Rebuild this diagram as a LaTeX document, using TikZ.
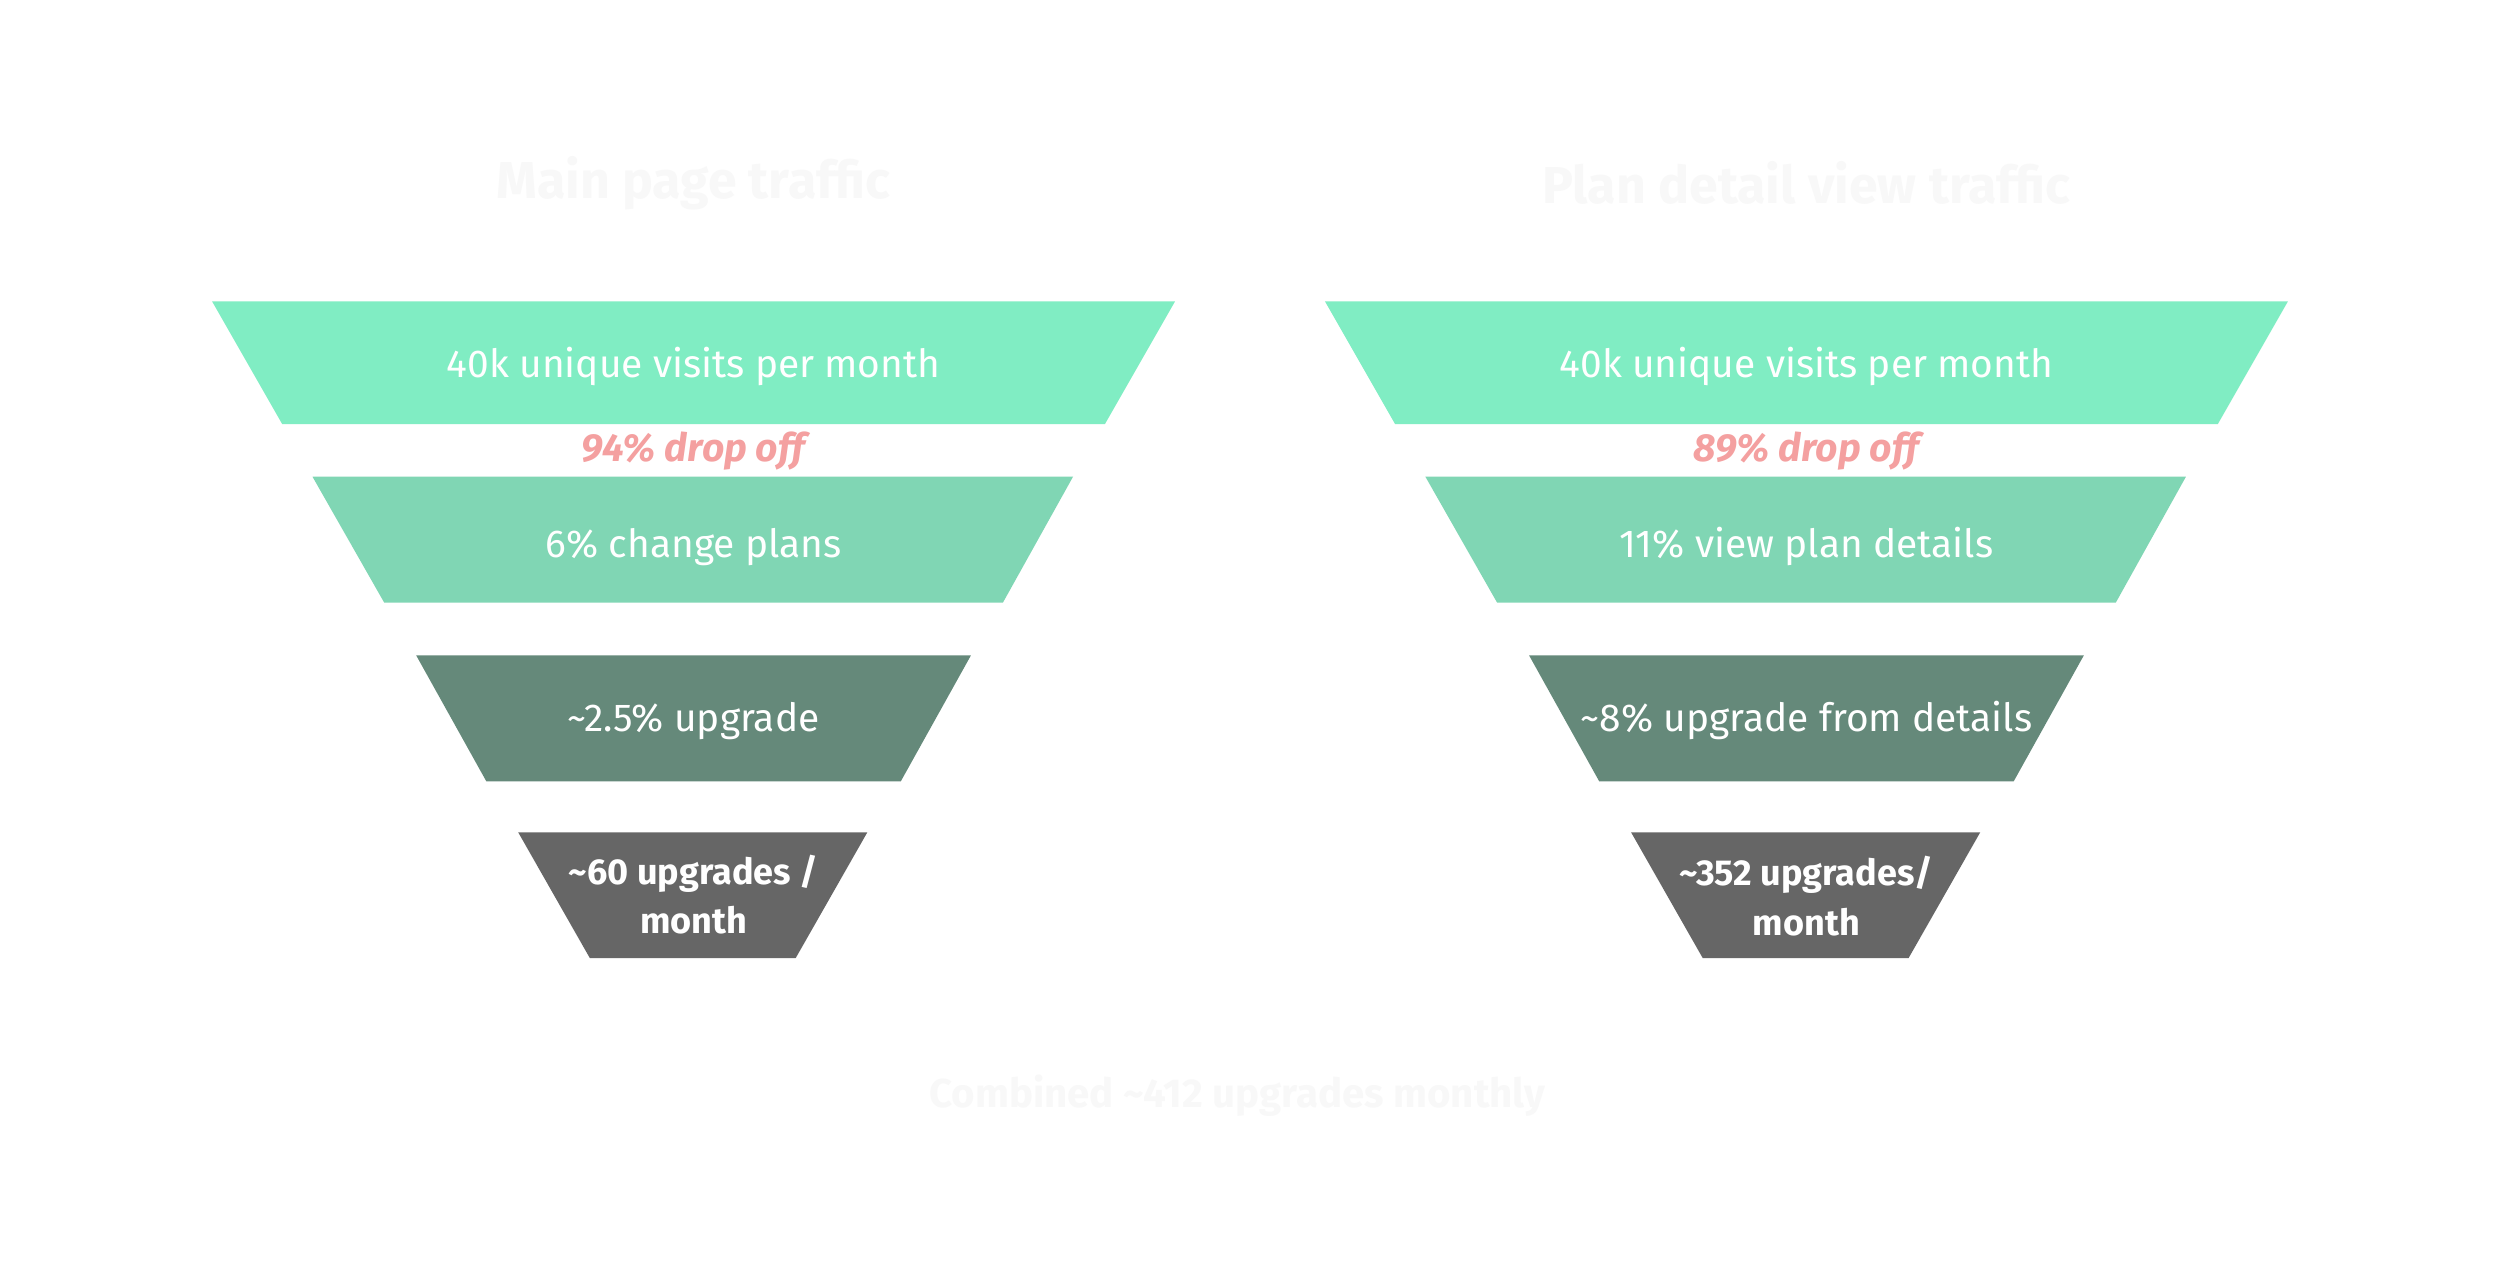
\documentclass[tikz,border=0pt]{standalone}
\usepackage{fontspec}
\setmainfont{Fira Sans}
\definecolor{cA}{HTML}{80EDC3}
\definecolor{cB}{HTML}{80D6B4}
\definecolor{cC}{HTML}{65897A}
\definecolor{cD}{HTML}{666666}
\definecolor{drop}{HTML}{F4A0A0}
\definecolor{ghost}{HTML}{F8F8F8}
\begin{document}
\begin{tikzpicture}[x=1pt,y=-1pt,
  body/.style={text=white,font=\fontsize{24.4}{28}\selectfont,align=center},
  bodyb/.style={text=white,font=\fontsize{22.6}{31}\selectfont\bfseries,align=center},
  dropt/.style={text=drop,font=\fontsize{24.5}{28}\selectfont\bfseries\itshape},
  title/.style={text=ghost,font=\fontsize{32.5}{36}\selectfont\bfseries},
]
\useasboundingbox[fill=white] (0,0) rectangle (1568,800);
\foreach \dx in {0,698}{
  \fill[cA] (133+\dx,189) -- (737+\dx,189) -- (693+\dx,266) -- (177+\dx,266) -- cycle;
  \fill[cB] (196+\dx,299) -- (673+\dx,299) -- (629+\dx,378) -- (241+\dx,378) -- cycle;
  \fill[cC] (261+\dx,411) -- (609+\dx,411) -- (565+\dx,490) -- (305+\dx,490) -- cycle;
  \fill[cD] (325+\dx,522) -- (544+\dx,522) -- (499+\dx,601) -- (370+\dx,601) -- cycle;
}
\node[title] (t1) at (435,115) {Main page traffic};
\node[title] (t2) at (1133,115) {Plan detail view traffic};
\node[body] (l1) at (435,230) {40k unique visits per month};
\node[dropt] (ld) at (435,283) {94\% drop off};
\node[body] (l2) at (435,343) {6\% change plans};
\node[body] (l3) at (435,452) {\textasciitilde 2.5\% upgrade};
\node[bodyb] (l4) at (435,561) {\textasciitilde 60 upgrades /\\month};
\node[body] (r1) at (1133,230) {40k unique visits per month};
\node[dropt] (rd) at (1133,283) {89\% drop off};
\node[body] (r2) at (1133,343) {11\% view plan details};
\node[body] (r3) at (1133,452) {\textasciitilde 8\% upgrade from details};
\node[bodyb] (r4) at (1133,562) {\textasciitilde 352 upgrades/\\month};
\node[title,font=\fontsize{25.2}{28}\selectfont\bfseries] (comb) at (776,687) {Combined \textasciitilde 412 upgrades monthly};
\end{tikzpicture}
\end{document}
